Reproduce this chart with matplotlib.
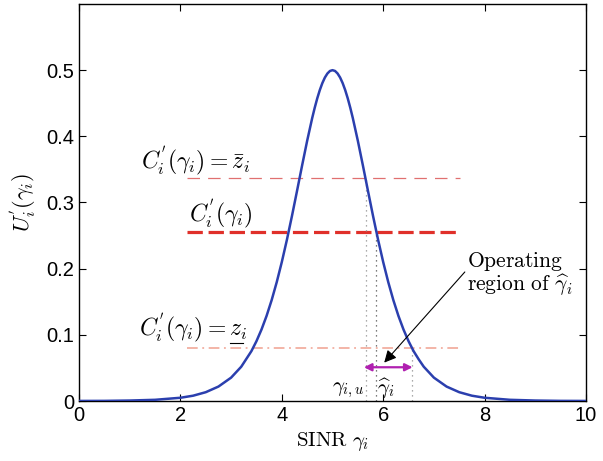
import matplotlib
matplotlib.use("Agg")
import matplotlib.pyplot as plt
from matplotlib.patches import FancyArrowPatch

plt.rcParams['mathtext.fontset'] = 'cm'
plt.rcParams['font.family'] = ['Liberation Sans', 'DejaVu Sans']

# Curve samples
sinr = [0.0, 0.5, 1.0, 1.5, 2.0, 2.25, 2.5, 2.75, 3.0, 3.2, 3.4, 3.5, 3.6, 3.7, 3.8, 3.9,
        4.0, 4.1, 4.2, 4.3, 4.4, 4.5, 4.6, 4.65, 4.7, 4.75, 4.8, 4.85, 4.9, 4.95, 5.0,
        5.05, 5.1, 5.15, 5.2, 5.25, 5.3, 5.35, 5.4, 5.5, 5.6, 5.7, 5.8, 5.9, 6.0, 6.1, 6.2,
        6.3, 6.4, 6.5, 6.6, 6.7, 6.8, 7.0, 7.25, 7.5, 7.75, 8.0, 8.5, 9.0, 9.5, 10.0]
util = [0.0001, 0.0002, 0.0007, 0.0018, 0.0049, 0.0080, 0.0133, 0.0218, 0.0353, 0.0518,
        0.0753, 0.0904, 0.1081, 0.1287, 0.1525, 0.1796,
        0.2100, 0.2434, 0.2795, 0.3174, 0.3558, 0.3932, 0.4278, 0.4434, 0.4576, 0.4700,
        0.4805, 0.4889, 0.4950, 0.4988, 0.5000,
        0.4988, 0.4950, 0.4889, 0.4805, 0.4700, 0.4576, 0.4434, 0.4278, 0.3932, 0.3558,
        0.3174, 0.2795, 0.2434, 0.2100, 0.1796, 0.1525, 0.1287, 0.1081, 0.0904, 0.0753,
        0.0630, 0.0518, 0.0353, 0.0218, 0.0133, 0.0080, 0.0049, 0.0018, 0.0007, 0.0002, 0.0001]

# Horizontal levels
level_start, level_end = 2.13, 7.52
z_bar = 0.337
c_level = 0.255
z_under = 0.080

# Vertical marker positions
gamma_u = 5.66
gamma_hat = 5.86
gamma_right = 6.56
arrow_y = 0.051

fig = plt.figure(figsize=(6.03, 4.61), dpi=100)
ax = fig.add_axes([79/603, 1-401/461, (586-79)/603, (401-4)/461])

ax.plot(sinr, util, color='#2b3fae', lw=1.8, zorder=5)

ax.plot([level_start, level_end], [z_bar, z_bar], color='#e07070', lw=0.9, dashes=(10, 6.5))
ax.plot([level_start, level_end], [c_level, c_level], color='#e0302a', lw=2.3, dashes=(4.8, 1.8))
ax.plot([level_start, level_end], [z_under, z_under], color='#f0a090', lw=1.1, dashes=(7, 3, 1.2, 3))

ax.plot([gamma_u, gamma_u], [0, z_bar], color='#909090', lw=0.9, ls=(0, (1, 3)))
ax.plot([gamma_hat, gamma_hat], [0, c_level], color='#505050', lw=0.9, ls=(0, (1, 3)))
ax.plot([gamma_right, gamma_right], [0, z_under], color='#909090', lw=0.9, ls=(0, (1, 3)))

ax.add_patch(FancyArrowPatch((gamma_u - 0.04, arrow_y), (gamma_right + 0.02, arrow_y),
                             arrowstyle='<|-|>', mutation_scale=11, color='#b020b0', lw=1.6,
                             shrinkA=0, shrinkB=0, zorder=6))

ax.annotate('', xy=(6.02, 0.058), xytext=(7.61, 0.195),
            arrowprops=dict(arrowstyle='-|>', color='black', lw=0.8, mutation_scale=18,
                            shrinkA=0, shrinkB=0), zorder=7)

ax.text(7.66, 0.192, '$\\mathrm{Operating}$\n$\\mathrm{region\\ of}\\ \\widehat{\\gamma}_i$',
        ha='left', va='center', fontsize=15.5, linespacing=1.0, multialignment='left')

ax.text(1.22, 0.362, "$C_i^{'}(\\gamma_i) = \\bar{z}_i$", fontsize=17, va='center', ha='left')
ax.text(2.16, 0.281, "$C_i^{'}(\\gamma_i)$", fontsize=17, va='center', ha='left')
t_low = ax.text(1.18, 0.109, "$C_i^{'}(\\gamma_i) = z_i$", fontsize=17, va='center', ha='left')
ax.text(5.62, 0.017, "$\\gamma_{i,u}$", fontsize=15, va='center', ha='right')
ax.text(6.06, 0.019, "$\\widehat{\\gamma}_i$", fontsize=15, va='center', ha='center')

ax.set_xlim(0, 10)
ax.set_ylim(0, 0.6)
ax.set_xticks([0, 2, 4, 6, 8, 10])
ax.set_yticks([0, 0.1, 0.2, 0.3, 0.4, 0.5])
ax.set_yticklabels(['0', '0.1', '0.2', '0.3', '0.4', '0.5'])
ax.tick_params(direction='in', labelsize=14.5, length=5, width=0.8, top=True, right=True)
for s in ax.spines.values():
    s.set_linewidth(1.0)

ax.set_xlabel("$\\mathrm{SINR}\\ \\gamma_i$", fontsize=15, labelpad=4)
ax.set_ylabel("$U_i^{'}(\\gamma_i)$", fontsize=16, labelpad=6)

# underline under the z of the lower label
fig.canvas.draw()
r = fig.canvas.get_renderer()
bb_full = t_low.get_window_extent(r)
tmp_zi = ax.text(0, 0, "$z_i$", fontsize=17)
tmp_z = ax.text(0, 0, "$z$", fontsize=17)
w_zi = tmp_zi.get_window_extent(r).width
w_z = tmp_z.get_window_extent(r).width
tmp_zi.remove(); tmp_z.remove()
x0 = bb_full.x1 - w_zi
x1 = x0 + w_z
yb = bb_full.y0 + 3
inv = fig.transFigure.inverted()
p0 = inv.transform((x0, yb)); p1 = inv.transform((x1, yb))
fig.add_artist(plt.Line2D([p0[0], p1[0]], [p0[1], p1[1]], color='black', lw=0.8,
                          transform=fig.transFigure))

fig.savefig('out.png', dpi=100)
